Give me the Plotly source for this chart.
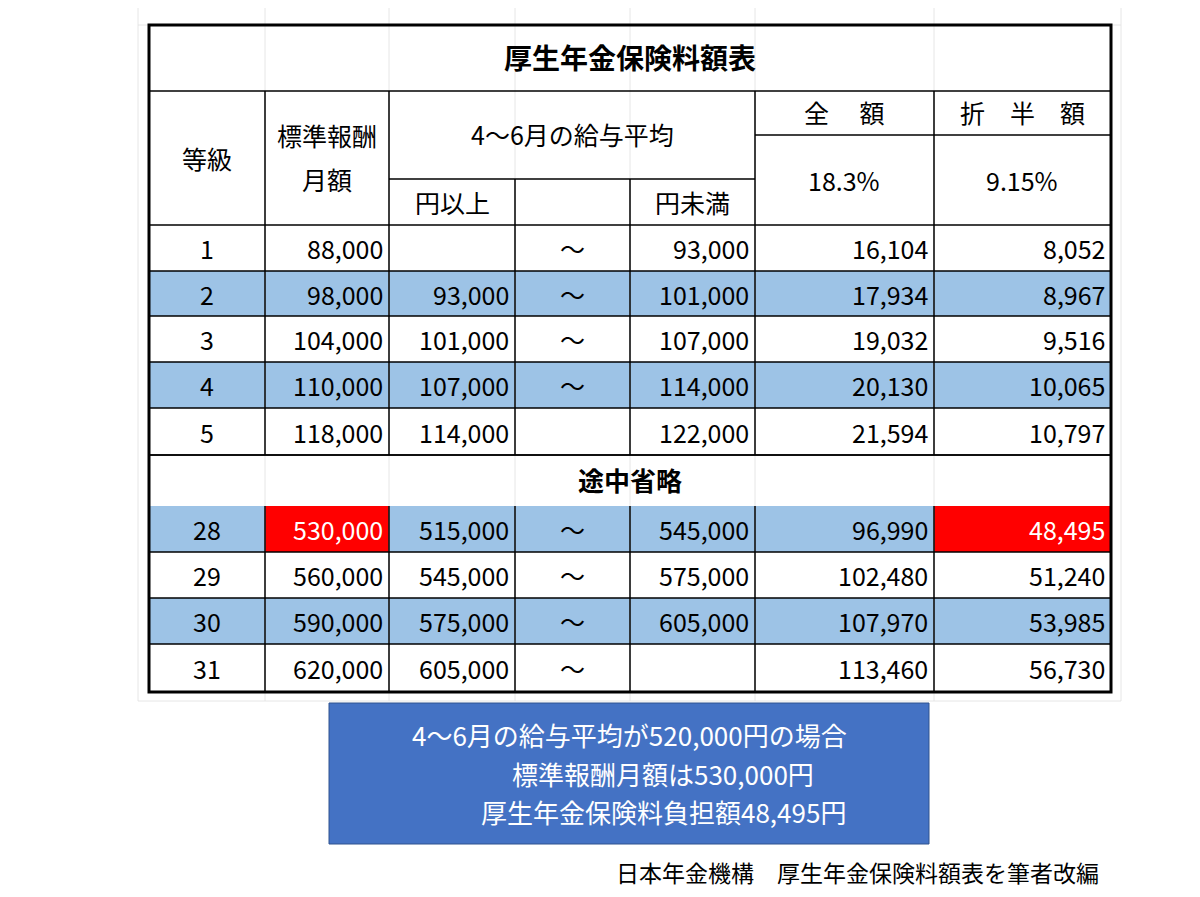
import plotly.graph_objects as go

grades = ["1", "2", "3", "4", "5", "28", "29", "30", "31"]
standard = ["88,000", "98,000", "104,000", "110,000", "118,000", "530,000", "560,000", "590,000", "620,000"]
lower = ["", "93,000", "101,000", "107,000", "114,000", "515,000", "545,000", "575,000", "605,000"]
tilde = [True, True, True, True, False, True, True, True, True]
upper = ["93,000", "101,000", "107,000", "114,000", "122,000", "545,000", "575,000", "605,000", ""]
full = ["16,104", "17,934", "19,032", "20,130", "21,594", "96,990", "102,480", "107,970", "113,460"]
half = ["8,052", "8,967", "9,516", "10,065", "10,797", "48,495", "51,240", "53,985", "56,730"]
blue_rows = [False, True, False, True, False, True, False, True, False]
red_row = "28"

FONT = "Noto Sans CJK JP"
BLUE = "#9DC3E6"
cols = [141, 257, 381, 507, 622, 747, 926, 1103]
row_tops = [217, 263, 308, 354, 400, 498, 544, 590, 636]
row_h = [46, 45, 46, 46, 47, 46, 46, 46, 48]

shapes, ann = [], []

def line(x0, y0, x1, y1, w=1.5, c="black"):
    shapes.append(dict(type="line", x0=x0, y0=y0, x1=x1, y1=y1, xref="x", yref="y",
                       line=dict(color=c, width=w)))

def rect(x0, y0, x1, y1, fill):
    shapes.append(dict(type="rect", x0=x0, y0=y0, x1=x1, y1=y1, xref="x", yref="y",
                       fillcolor=fill, line=dict(width=0), layer="below"))

def text(x, y, s, size=25, color="black", anchor="center", bold=False):
    if bold:
        s = "<b>" + s + "</b>"
    ann.append(dict(x=x, y=y, xref="x", yref="y", text=s, showarrow=False,
                    xanchor=anchor, yanchor="middle",
                    font=dict(family=FONT, size=size, color=color)))

# faint sheet grid
for gx in [130, 257, 381, 507, 622, 747, 926, 1113]:
    line(gx, 0, gx, 693, 0.8, "#e0e0e0")
for gy in [17, 693]:
    line(130, gy, 1113, gy, 0.8, "#e0e0e0")

# data rows backgrounds
for i, g in enumerate(grades):
    t, b = row_tops[i], row_tops[i] + row_h[i]
    if blue_rows[i]:
        rect(cols[0], t, cols[-1], b, BLUE)
    if g == red_row:
        rect(cols[1], t, cols[2], b, "#FF0000")
        rect(cols[6], t, cols[7], b, "#FF0000")
    yc = (t + b) / 2
    tc = "white" if g == red_row else "black"
    text((cols[0] + cols[1]) / 2, yc, g)
    text(cols[2] - 4, yc, standard[i], color=tc, anchor="right")
    text(cols[3] - 4, yc, lower[i], anchor="right")
    if tilde[i]:
        text((cols[3] + cols[4]) / 2, yc, "～")
    text(cols[5] - 4, yc, upper[i], anchor="right")
    text(cols[6] - 4, yc, full[i], anchor="right")
    text(cols[7] - 4, yc, half[i], color=tc, anchor="right")
    line(cols[0], b, cols[-1], b)
    for cx in cols[1:-1]:
        line(cx, t, cx, b)

# title + header
text(622, 49, "厚生年金保険料額表", size=28, bold=True)
line(cols[0], 83, cols[-1], 83)
line(cols[0], 217, cols[-1], 217)
for cx in [257, 381, 747, 926]:
    line(cx, 83, cx, 217)
line(747, 127, 1103, 127)
line(381, 171, 747, 171)
line(507, 171, 507, 217)
line(622, 171, 622, 217)
text(199, 150, "等級")
text(319, 127, "標準報酬")
text(319, 171, "月額")
text(564, 126, "4～6月の給与平均")
text(836, 104, "全　 額")
text(1014, 104, "折　半　額")
text(836, 172, "18.3%")
text(1014, 172, "9.15%")
text(444, 194, "円以上")
text(684, 194, "円未満")

# 途中省略
text(622, 471, "途中省略", size=26, bold=True)
line(cols[0], 447, cols[-1], 447)

# outer border
shapes.append(dict(type="rect", x0=141, y0=17, x1=1103, y1=684, xref="x", yref="y",
                   line=dict(color="black", width=3)))

# blue note box
shapes.append(dict(type="rect", x0=321, y0=695, x1=921, y1=836, xref="x", yref="y",
                   fillcolor="#4472C4", line=dict(color="#2F528F", width=1)))
text(621, 726, "4～6月の給与平均が520,000円の場合", size=26, color="white")
text(655, 765, "標準報酬月額は530,000円", size=26, color="white")
text(655, 803, "厚生年金保険料負担額48,495円", size=26, color="white")

text(1093, 864, "日本年金機構　厚生年金保険料額表を筆者改編", size=23, anchor="right")

fig = go.Figure()
fig.update_layout(width=1200, height=897, margin=dict(l=0, r=0, t=0, b=0),
                  paper_bgcolor="white", plot_bgcolor="white",
                  xaxis=dict(range=[0, 1200], visible=False, fixedrange=True),
                  yaxis=dict(range=[897, 0], visible=False, fixedrange=True),
                  shapes=shapes, annotations=ann, showlegend=False)
fig.write_html("out.html")
